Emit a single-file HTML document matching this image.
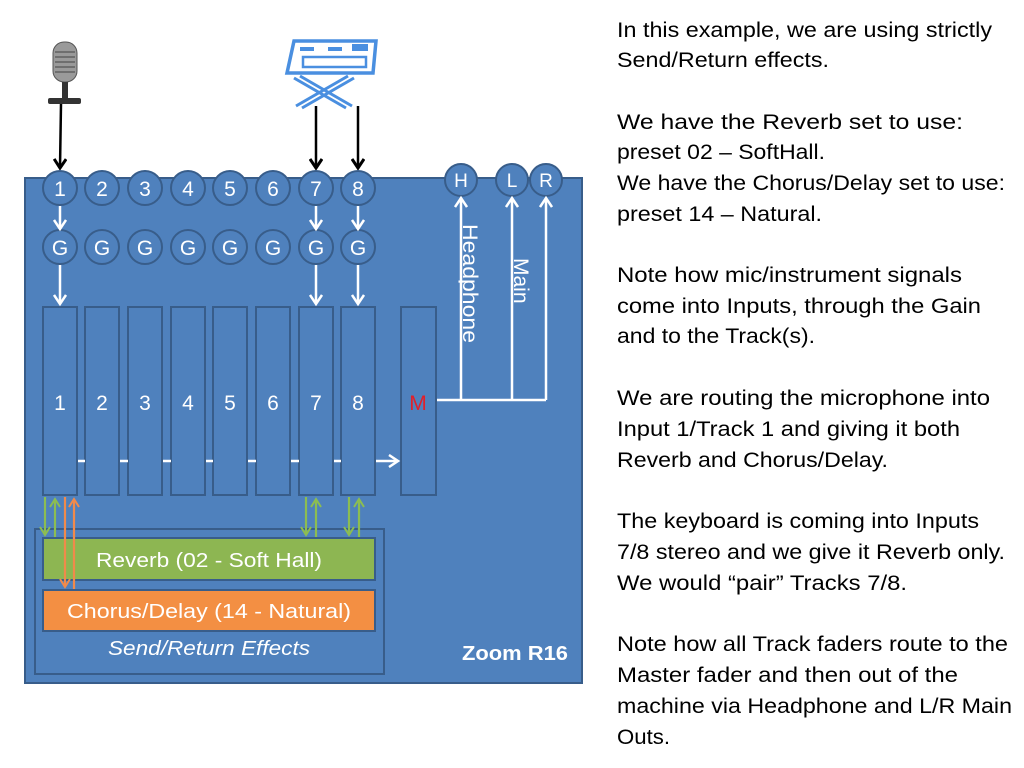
<!DOCTYPE html>
<html><head><meta charset="utf-8"><style>
html,body{margin:0;padding:0;background:#fff;}
svg{display:block;}
text{font-family:"Liberation Sans",sans-serif;}
</style></head><body>
<svg width="1024" height="768" viewBox="0 0 1024 768" xmlns="http://www.w3.org/2000/svg">
<defs>
<marker id="aw" markerWidth="14" markerHeight="14" refX="10" refY="7" orient="auto" markerUnits="userSpaceOnUse"><path d="M1,1 L10,7 L1,13" fill="none" stroke="#fff" stroke-width="2.5"/></marker>
<marker id="ab" markerWidth="14" markerHeight="14" refX="10" refY="7" orient="auto" markerUnits="userSpaceOnUse"><path d="M1,1 L10,7 L1,13" fill="none" stroke="#000" stroke-width="3"/></marker>
<marker id="ag" markerWidth="12" markerHeight="12" refX="9" refY="6" orient="auto" markerUnits="userSpaceOnUse"><path d="M1,1 L9,6 L1,11" fill="none" stroke="#8cbd52" stroke-width="2"/></marker>
<marker id="ao" markerWidth="12" markerHeight="12" refX="9" refY="6" orient="auto" markerUnits="userSpaceOnUse"><path d="M1,1 L9,6 L1,11" fill="none" stroke="#f08a4b" stroke-width="2"/></marker>
</defs>
<rect x="25" y="178" width="557" height="505" fill="#4f81bd" stroke="#385d8a" stroke-width="2"/>
<!-- mic -->
<rect x="53" y="42" width="24" height="40" rx="11" fill="#9a9a9a" stroke="#555" stroke-width="1"/>
<g stroke="#444" stroke-width="1"><line x1="55" y1="52" x2="75" y2="52"/><line x1="55" y1="57" x2="75" y2="57"/><line x1="55" y1="62" x2="75" y2="62"/><line x1="55" y1="67" x2="75" y2="67"/><line x1="55" y1="72" x2="75" y2="72"/></g>
<rect x="62" y="82" width="6" height="16" fill="#333"/>
<rect x="48" y="98" width="33" height="6" rx="2" fill="#333"/>
<line x1="61" y1="104" x2="60" y2="168" stroke="#000" stroke-width="2.5" marker-end="url(#ab)"/>
<!-- keyboard -->
<g fill="none" stroke="#4a8fe0">
<path d="M294,41 L376,41 L373,73 L287,73 Z" stroke-width="3.5"/>
<rect x="303" y="57" width="63" height="10" stroke-width="2.5"/>
<path d="M296,106 L348,76 M302,108 L354,78 M352,106 L300,76 M346,108 L294,78" stroke-width="3"/>
</g>
<g fill="#4a8fe0"><rect x="300" y="47" width="14" height="4"/><rect x="328" y="47" width="14" height="4"/><rect x="352" y="44" width="16" height="7"/></g>
<line x1="316" y1="106" x2="316" y2="168" stroke="#000" stroke-width="2.5" marker-end="url(#ab)"/>
<line x1="358" y1="106" x2="358" y2="168" stroke="#000" stroke-width="2.5" marker-end="url(#ab)"/>
<g font-size="21" fill="#fff" text-anchor="middle">
<g stroke="#385d8a" stroke-width="2" fill="#4f81bd">
<circle cx="60" cy="188" r="17"/><circle cx="102" cy="188" r="17"/><circle cx="145" cy="188" r="17"/><circle cx="188" cy="188" r="17"/><circle cx="230" cy="188" r="17"/><circle cx="273" cy="188" r="17"/><circle cx="316" cy="188" r="17"/><circle cx="358" cy="188" r="17"/>
<circle cx="60" cy="247" r="17"/><circle cx="102" cy="247" r="17"/><circle cx="145" cy="247" r="17"/><circle cx="188" cy="247" r="17"/><circle cx="230" cy="247" r="17"/><circle cx="273" cy="247" r="17"/><circle cx="316" cy="247" r="17"/><circle cx="358" cy="247" r="17"/>
<circle cx="461" cy="180" r="16"/><circle cx="512" cy="180" r="16"/><circle cx="546" cy="180" r="16"/>
<rect x="43" y="307" width="34" height="188"/><rect x="85" y="307" width="34" height="188"/><rect x="128" y="307" width="34" height="188"/><rect x="171" y="307" width="34" height="188"/><rect x="213" y="307" width="34" height="188"/><rect x="256" y="307" width="34" height="188"/><rect x="299" y="307" width="34" height="188"/><rect x="341" y="307" width="34" height="188"/>
<rect x="401" y="307" width="35" height="188"/>
</g>
<text x="60" y="196">1</text><text x="102" y="196">2</text><text x="145" y="196">3</text><text x="188" y="196">4</text><text x="230" y="196">5</text><text x="273" y="196">6</text><text x="316" y="196">7</text><text x="358" y="196">8</text>
<text x="60" y="255">G</text><text x="102" y="255">G</text><text x="145" y="255">G</text><text x="188" y="255">G</text><text x="230" y="255">G</text><text x="273" y="255">G</text><text x="316" y="255">G</text><text x="358" y="255">G</text>
<text x="461" y="187" font-size="19">H</text><text x="512" y="187" font-size="19">L</text><text x="546" y="187" font-size="19">R</text>
<text x="60" y="410">1</text><text x="102" y="410">2</text><text x="145" y="410">3</text><text x="188" y="410">4</text><text x="230" y="410">5</text><text x="273" y="410">6</text><text x="316" y="410">7</text><text x="358" y="410">8</text>
<text x="418" y="410" fill="#e0202a">M</text>
</g>
<g stroke="#fff" stroke-width="2.5" fill="none">
<line x1="60" y1="206" x2="60" y2="229" marker-end="url(#aw)"/>
<line x1="316" y1="206" x2="316" y2="229" marker-end="url(#aw)"/>
<line x1="358" y1="206" x2="358" y2="229" marker-end="url(#aw)"/>
<line x1="60" y1="265" x2="60" y2="304" marker-end="url(#aw)"/>
<line x1="316" y1="265" x2="316" y2="304" marker-end="url(#aw)"/>
<line x1="358" y1="265" x2="358" y2="304" marker-end="url(#aw)"/>
<path d="M78,461 H85 M120,461 H128 M163,461 H171 M206,461 H213 M248,461 H256 M291,461 H299 M334,461 H341"/>
<line x1="376" y1="461" x2="398" y2="461" marker-end="url(#aw)"/>
<path d="M437,400 H546"/>
<line x1="461" y1="400" x2="461" y2="198" marker-end="url(#aw)"/>
<line x1="512" y1="400" x2="512" y2="198" marker-end="url(#aw)"/>
<line x1="546" y1="400" x2="546" y2="198" marker-end="url(#aw)"/>
</g>
<text transform="translate(463,224) rotate(90)" font-size="21" fill="#fff" textLength="119" lengthAdjust="spacingAndGlyphs">Headphone</text>
<text transform="translate(514,258) rotate(90)" font-size="21" fill="#fff">Main</text>
<rect x="35" y="529" width="349" height="145" fill="#4f81bd" stroke="#385d8a" stroke-width="2"/>
<rect x="43" y="538" width="332" height="42" fill="#8db652" stroke="#385d8a" stroke-width="2"/>
<rect x="43" y="590" width="332" height="41" fill="#f38f43" stroke="#385d8a" stroke-width="2"/>
<text x="209" y="567" font-size="20" fill="#fff" text-anchor="middle" textLength="226" lengthAdjust="spacingAndGlyphs">Reverb (02 - Soft Hall)</text>
<text x="209" y="618" font-size="20" fill="#fff" text-anchor="middle" textLength="284" lengthAdjust="spacingAndGlyphs">Chorus/Delay (14 - Natural)</text>
<text x="209" y="655" font-size="20" fill="#fff" text-anchor="middle" font-style="italic" textLength="202" lengthAdjust="spacingAndGlyphs">Send/Return Effects</text>
<text x="515" y="660" font-size="20" fill="#fff" text-anchor="middle" font-weight="bold" textLength="106" lengthAdjust="spacingAndGlyphs">Zoom R16</text>
<g stroke-width="2.2" fill="none">
<line x1="45" y1="497" x2="45" y2="535" stroke="#8cbd52" marker-end="url(#ag)"/>
<line x1="55" y1="537" x2="55" y2="499" stroke="#8cbd52" marker-end="url(#ag)"/>
<line x1="65" y1="497" x2="65" y2="587" stroke="#f08a4b" marker-end="url(#ao)"/>
<line x1="74" y1="589" x2="74" y2="499" stroke="#f08a4b" marker-end="url(#ao)"/>
<line x1="306" y1="497" x2="306" y2="535" stroke="#8cbd52" marker-end="url(#ag)"/>
<line x1="316" y1="537" x2="316" y2="499" stroke="#8cbd52" marker-end="url(#ag)"/>
<line x1="349" y1="497" x2="349" y2="535" stroke="#8cbd52" marker-end="url(#ag)"/>
<line x1="359" y1="537" x2="359" y2="499" stroke="#8cbd52" marker-end="url(#ag)"/>
</g>
<g font-size="21" fill="#000">
<text x="617" y="37" textLength="375" lengthAdjust="spacingAndGlyphs">In this example, we are using strictly</text>
<text x="617" y="67" textLength="212" lengthAdjust="spacingAndGlyphs">Send/Return effects.</text>
<text x="617" y="129" textLength="346" lengthAdjust="spacingAndGlyphs">We have the Reverb set to use:</text>
<text x="617" y="159" textLength="208" lengthAdjust="spacingAndGlyphs">preset 02 – SoftHall.</text>
<text x="617" y="190" textLength="388" lengthAdjust="spacingAndGlyphs">We have the Chorus/Delay set to use:</text>
<text x="617" y="221" textLength="205" lengthAdjust="spacingAndGlyphs">preset 14 – Natural.</text>
<text x="617" y="282" textLength="345" lengthAdjust="spacingAndGlyphs">Note how mic/instrument signals</text>
<text x="617" y="313" textLength="364" lengthAdjust="spacingAndGlyphs">come into Inputs, through the Gain</text>
<text x="617" y="343" textLength="198" lengthAdjust="spacingAndGlyphs">and to the Track(s).</text>
<text x="617" y="405" textLength="373" lengthAdjust="spacingAndGlyphs">We are routing the microphone into</text>
<text x="617" y="436" textLength="343" lengthAdjust="spacingAndGlyphs">Input 1/Track 1 and giving it both</text>
<text x="617" y="467" textLength="271" lengthAdjust="spacingAndGlyphs">Reverb and Chorus/Delay.</text>
<text x="617" y="528" textLength="362" lengthAdjust="spacingAndGlyphs">The keyboard is coming into Inputs</text>
<text x="617" y="559" textLength="388" lengthAdjust="spacingAndGlyphs">7/8 stereo and we give it Reverb only.</text>
<text x="617" y="590" textLength="290" lengthAdjust="spacingAndGlyphs">We would “pair” Tracks 7/8.</text>
<text x="617" y="651" textLength="391" lengthAdjust="spacingAndGlyphs">Note how all Track faders route to the</text>
<text x="617" y="682" textLength="341" lengthAdjust="spacingAndGlyphs">Master fader and then out of the</text>
<text x="617" y="713" textLength="395" lengthAdjust="spacingAndGlyphs">machine via Headphone and L/R Main</text>
<text x="617" y="744" textLength="53" lengthAdjust="spacingAndGlyphs">Outs.</text>
</g>
</svg>
</body></html>
